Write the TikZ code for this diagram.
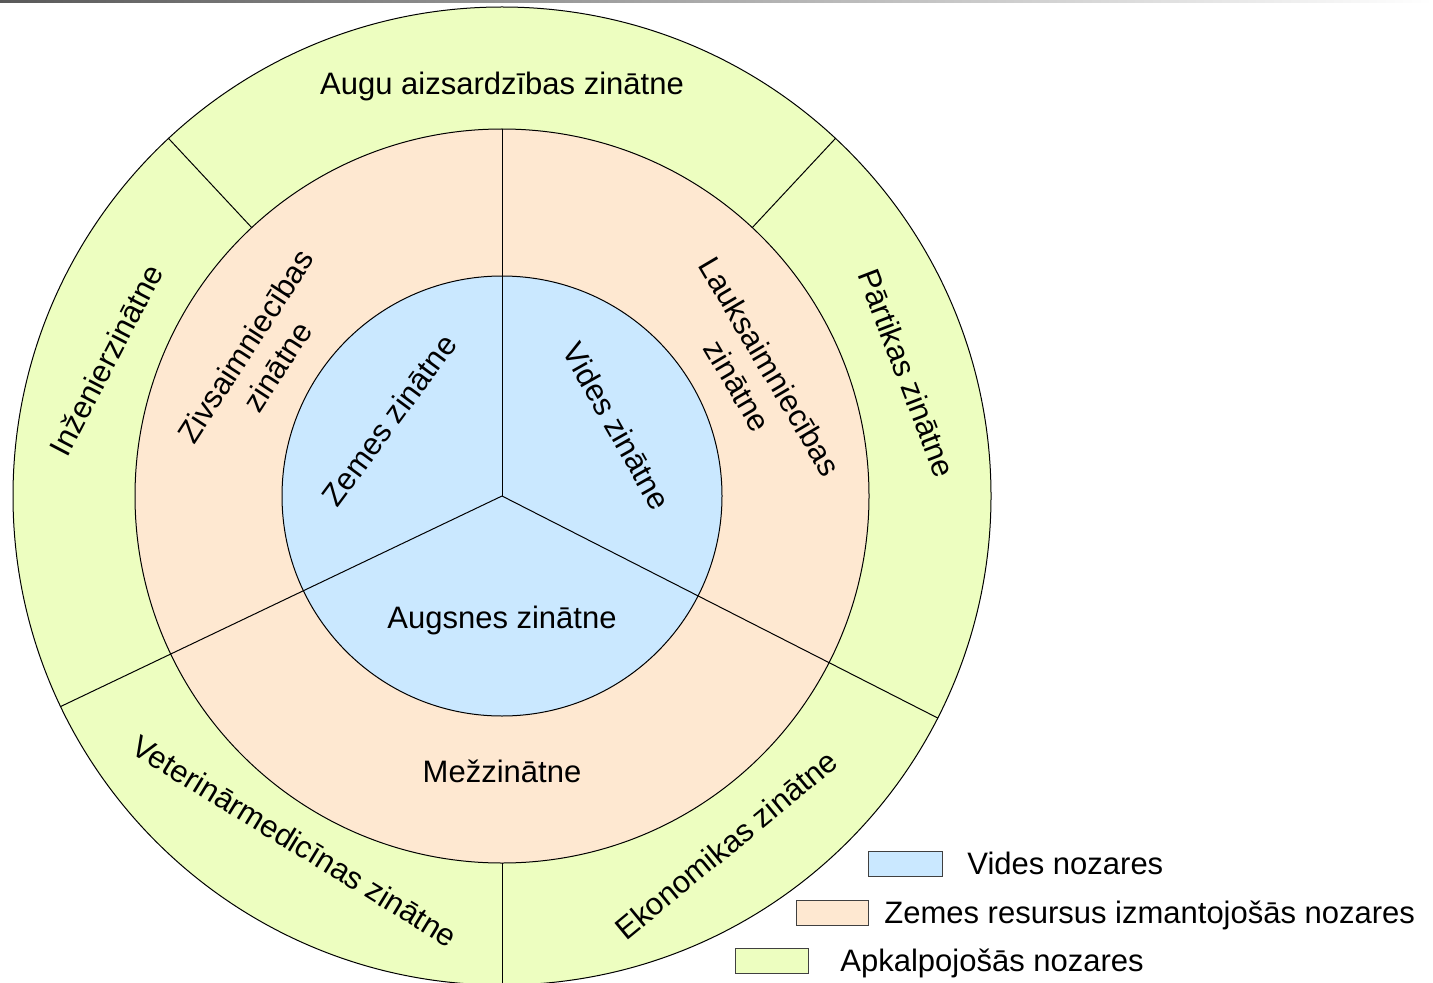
\documentclass[tikz,border=0pt]{standalone}
\usepackage{fontspec}
\setmainfont{Liberation Sans}
\definecolor{envblue}{HTML}{CAE8FF}
\definecolor{landpeach}{HTML}{FEE8D1}
\definecolor{servgreen}{HTML}{EDFEC0}
\begin{document}
\begin{tikzpicture}[x=0.5pt,y=0.5pt,
  lblfont/.style={font=\fontsize{15.5}{18.8}\selectfont, inner sep=0pt, align=center},
  lbl/.style={lblfont, text height=11.16pt, text depth=0pt},
  sep/.style={draw=black, line width=0.5pt},
  key/.style={draw=black!75, line width=0.5pt}]
\useasboundingbox (0,0) rectangle (1433,982);
\begin{scope}
\clip (0,0) rectangle (1433,982);
\coordinate (C) at (502,486);
\fill[left color=black!65, right color=white] (0,979.5) rectangle (1433,982);
\filldraw[fill=servgreen, sep] (C) circle (489);
\filldraw[fill=landpeach, sep] (C) circle (367);
\filldraw[fill=envblue, sep] (C) circle (220);
\draw[sep] (C) -- ([shift={(90:367)}]C);
\draw[sep] (C) -- ([shift={(205.5:489)}]C);
\draw[sep] (C) -- ([shift={(333:489)}]C);
\draw[sep] ([shift={(270:367)}]C) -- ([shift={(270:489)}]C);
\draw[sep] ([shift={(133:367)}]C) -- ([shift={(133:489)}]C);
\draw[sep] ([shift={(47:367)}]C) -- ([shift={(47:489)}]C);
\end{scope}
% outer ring
\node[lbl] (augu) at (502,899) {Augu aizsardzības zinātne};
\node[lbl, rotate=62.5] (inz) at (106,622) {Inženierzinātne};
\node[lbl, rotate=-69] (part) at (907,609) {Pārtikas zinātne};
\node[lbl, rotate=-31.5] (vet) at (295,141) {Veterinārmedicīnas zinātne};
\node[lbl, rotate=39.5] (eko) at (726,137) {Ekonomikas zinātne};
% middle ring
\node[lblfont, rotate=57] (ziv) at (261.4,625.8) {Zivsaimniecības\\zinātne};
\node[lblfont, rotate=-59.5] (lauk) at (754,606) {Lauksaimniecības\\zinātne};
\node[lbl] (mez) at (502,211) {Mežzinātne};
% inner
\node[lbl, rotate=53.5] (zem) at (389,562) {Zemes zinātne};
\node[lbl, rotate=-60.5] (vid) at (617,556) {Vides zinātne};
\node[lbl] (augs) at (502,365) {Augsnes zinātne};
% legend
\filldraw[fill=envblue, key] (868,106) rectangle (942,131);
\filldraw[fill=landpeach, key] (796,57) rectangle (868,82);
\filldraw[fill=servgreen, key] (735,9) rectangle (808,34);
\node[lbl, anchor=west] (k1) at (967,118.5) {Vides nozares};
\node[lbl, anchor=west] (k2) at (884,69.5) {Zemes resursus izmantojošās nozares};
\node[lbl, anchor=west] (k3) at (840,21.5) {Apkalpojošās nozares};
\end{tikzpicture}
\end{document}
